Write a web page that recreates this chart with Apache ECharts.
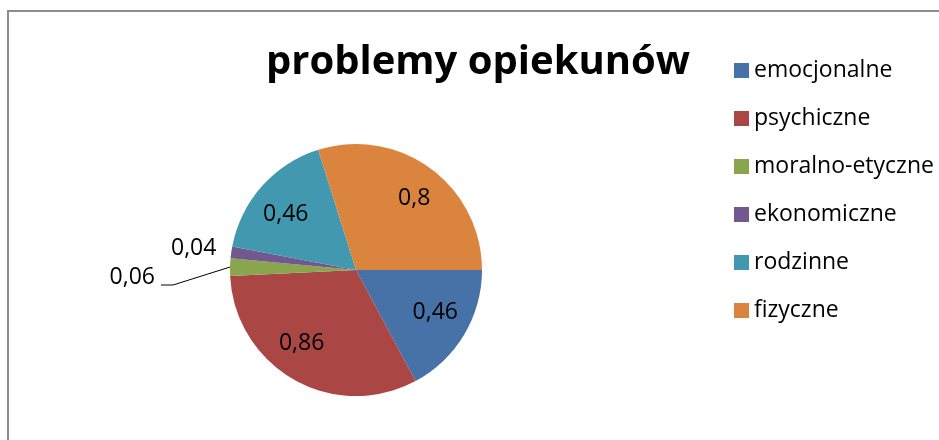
<!DOCTYPE html>
<html>
<head>
<meta charset="utf-8">
<script src="https://cdn.jsdelivr.net/npm/echarts@6/dist/echarts.min.js"></script>
<style>
html,body{margin:0;padding:0;background:#fff;}
#frame{position:absolute;left:7px;top:10px;width:1000px;height:500px;border-left:2px solid #8c8c8c;border-top:2px solid #8c8c8c;}
#chart{position:absolute;left:0;top:0;width:939px;height:440px;}
</style>
</head>
<body>
<div id="frame"></div>
<div id="chart"></div>
<script>
const titleText = 'problemy opiekunów';
const categories = ['emocjonalne', 'psychiczne', 'moralno-etyczne', 'ekonomiczne', 'rodzinne', 'fizyczne'];
const values = [0.46, 0.86, 0.06, 0.04, 0.46, 0.8];
const colors = ['#4672A8', '#AA4643', '#89A54E', '#71588F', '#4198AF', '#DB843D'];

const fmt = v => String(v).replace('.', ',');
const FONT = 'Open Sans';
const outsideIdx = [2, 3];
const insideOffsets = {0: [2, -4], 1: [-10, -5], 4: [-3, 4], 5: [5, 1]};

const chart = echarts.init(document.getElementById('chart'), null, {renderer: 'canvas'});

const mainData = categories.map((c, i) => ({
  name: c, value: values[i], itemStyle: {color: colors[i]},
  label: {show: outsideIdx.indexOf(i) >= 0},
  labelLine: {show: i === 2}
}));

const overlayData = categories.map((c, i) => ({
  name: c, value: values[i],
  label: {show: outsideIdx.indexOf(i) < 0, offset: insideOffsets[i] || [0, 0]}
}));

const option = {
  animation: false,
  title: {
    text: titleText, left: 478, top: 43, textAlign: 'center', padding: 0,
    textStyle: {fontFamily: FONT, fontWeight: 'bold', fontSize: 40, color: '#000'}
  },
  legend: {
    orient: 'vertical', left: 734, top: 59, padding: 0,
    itemWidth: 15, itemHeight: 15, itemGap: 25,
    icon: 'rect', data: categories,
    textStyle: {fontFamily: FONT, fontSize: 23, color: '#000', lineHeight: 20}
  },
  series: [
    {
      type: 'pie', center: [356, 270], radius: [0, 126],
      startAngle: 0, clockwise: true, silent: true,
      itemStyle: {borderWidth: 0},
      data: mainData,
      label: {
        position: 'outside', formatter: p => fmt(p.value),
        fontFamily: FONT, fontSize: 23, color: '#000'
      },
      labelLine: {length: 10, length2: 10, lineStyle: {color: '#000', width: 1}, smooth: false},
      labelLayout: function (p) {
        if (p.dataIndex === 2) {
          const start = p.labelLinePoints ? p.labelLinePoints[0] : [230, 268];
          return {x: 155, y: 277, align: 'right', verticalAlign: 'middle',
                  labelLinePoints: [start, [173, 285], [161, 285]]};
        }
        if (p.dataIndex === 3) return {x: 171, y: 248, align: 'left', verticalAlign: 'middle'};
        return {};
      }
    },
    {
      type: 'pie', center: [356, 270], radius: [0, 174],
      startAngle: 0, clockwise: true, silent: true,
      itemStyle: {color: 'rgba(0,0,0,0)', borderWidth: 0},
      data: overlayData,
      label: {
        position: 'inside', formatter: p => fmt(p.value),
        fontFamily: FONT, fontSize: 23, color: '#000'
      },
      labelLine: {show: false}
    }
  ]
};
chart.setOption(option);
</script>
</body>
</html>
